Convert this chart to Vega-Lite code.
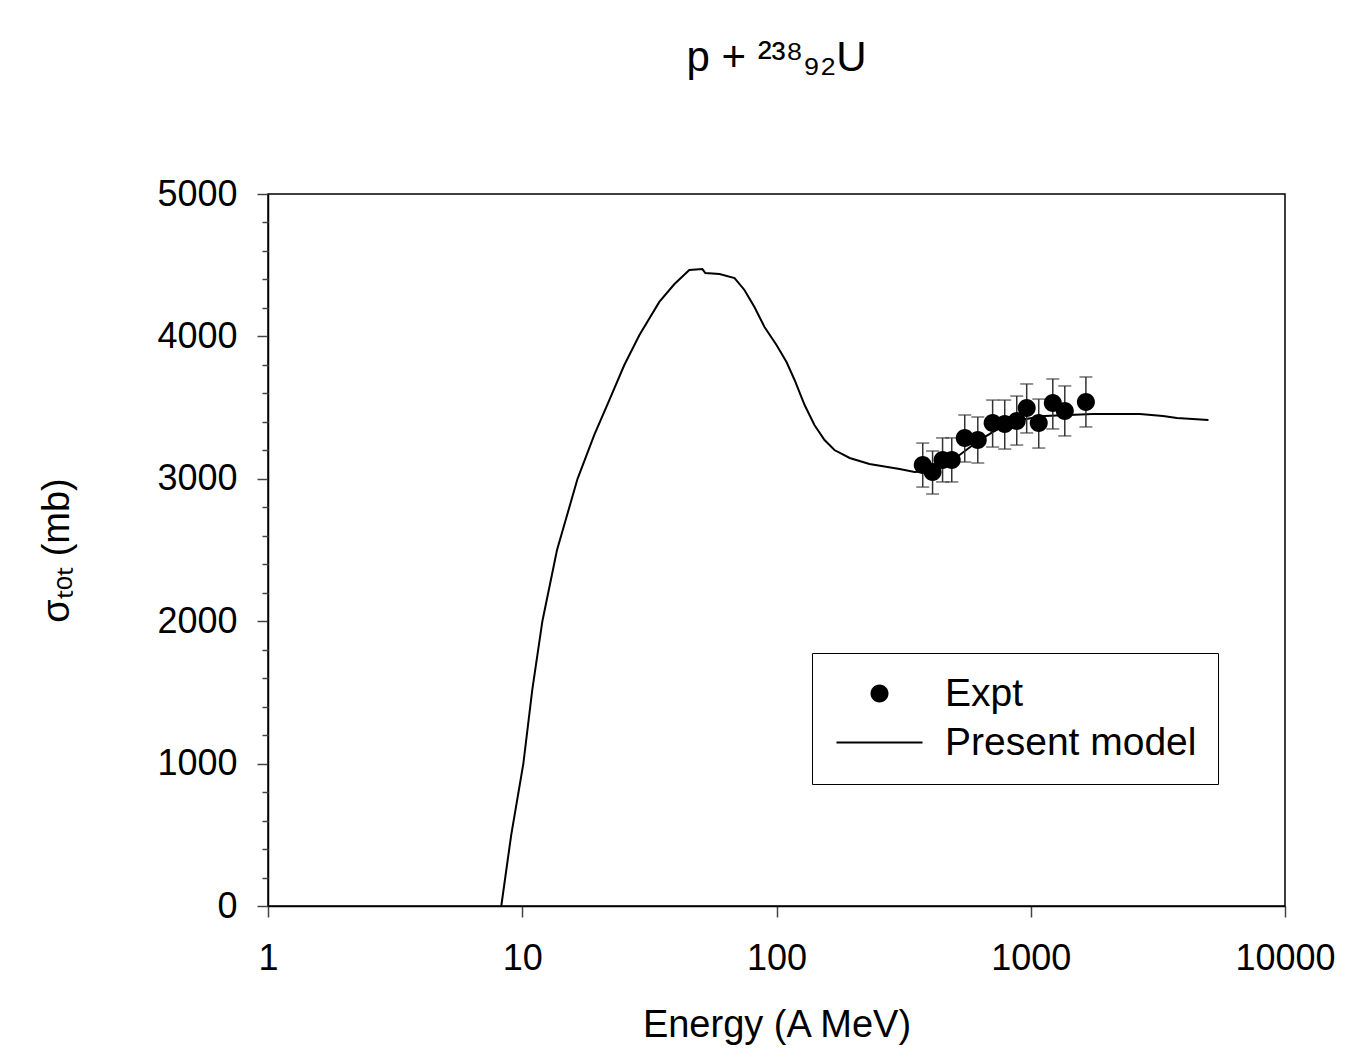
{
  "$schema": "https://vega.github.io/schema/vega-lite/v6.json",
  "width": 1017,
  "height": 712,
  "autosize": {"type": "none"},
  "padding": {"left": 268, "top": 194, "right": 62, "bottom": 151},
  "background": "white",
  "title": {"text": "p + ²³⁸₉₂U", "font": "Liberation Sans", "fontSize": 42, "fontWeight": "normal", "color": "black", "anchor": "middle", "baseline": "alphabetic", "offset": 63},
  "config": {
    "view": {"stroke": "black", "strokeWidth": 1.5},
    "axis": {"labelFont": "Liberation Sans", "labelFontSize": 36, "labelColor": "black", "titleFont": "Liberation Sans", "titleFontWeight": "normal", "titleColor": "black", "domainColor": "black", "domainWidth": 1.5, "tickColor": "#444", "tickWidth": 1.5, "grid": false}
  },
  "resolve": {"axis": {"y": "independent"}},
  "datasets": {
    "model": [
      {"E": 8.27, "sigma": 0},
      {"E": 9.05, "sigma": 500},
      {"E": 10.1, "sigma": 1000},
      {"E": 10.95, "sigma": 1517},
      {"E": 12.0, "sigma": 2000},
      {"E": 13.7, "sigma": 2500},
      {"E": 16.5, "sigma": 3000},
      {"E": 19.2, "sigma": 3308},
      {"E": 22.0, "sigma": 3553},
      {"E": 25.2, "sigma": 3799},
      {"E": 28.9, "sigma": 4010},
      {"E": 34.6, "sigma": 4242},
      {"E": 39.7, "sigma": 4368},
      {"E": 45.4, "sigma": 4466},
      {"E": 51.1, "sigma": 4473},
      {"E": 52.5, "sigma": 4445},
      {"E": 59.7, "sigma": 4438},
      {"E": 68.4, "sigma": 4410},
      {"E": 74.8, "sigma": 4326},
      {"E": 81.9, "sigma": 4206},
      {"E": 89.7, "sigma": 4066},
      {"E": 100, "sigma": 3940},
      {"E": 109.5, "sigma": 3820},
      {"E": 117.8, "sigma": 3694},
      {"E": 129, "sigma": 3518},
      {"E": 141, "sigma": 3378},
      {"E": 154.5, "sigma": 3272},
      {"E": 169, "sigma": 3202},
      {"E": 194, "sigma": 3146},
      {"E": 232, "sigma": 3104},
      {"E": 305, "sigma": 3069},
      {"E": 349, "sigma": 3048},
      {"E": 400, "sigma": 3055},
      {"E": 525, "sigma": 3167},
      {"E": 629, "sigma": 3272},
      {"E": 755, "sigma": 3357},
      {"E": 905, "sigma": 3413},
      {"E": 1135, "sigma": 3441},
      {"E": 1755, "sigma": 3455},
      {"E": 2686, "sigma": 3455},
      {"E": 3311, "sigma": 3441},
      {"E": 3758, "sigma": 3427},
      {"E": 5000, "sigma": 3413}
    ],
    "expt": [
      {"E": 376, "sigma": 3097, "lo": 2942, "hi": 3251, "series": "Expt"},
      {"E": 411, "sigma": 3048, "lo": 2893, "hi": 3195, "series": "Expt"},
      {"E": 450, "sigma": 3132, "lo": 2978, "hi": 3287, "series": "Expt"},
      {"E": 489, "sigma": 3132, "lo": 2978, "hi": 3287, "series": "Expt"},
      {"E": 550, "sigma": 3287, "lo": 3118, "hi": 3448, "series": "Expt"},
      {"E": 619, "sigma": 3272, "lo": 3111, "hi": 3434, "series": "Expt"},
      {"E": 708, "sigma": 3392, "lo": 3223, "hi": 3553, "series": "Expt"},
      {"E": 790, "sigma": 3385, "lo": 3209, "hi": 3553, "series": "Expt"},
      {"E": 881, "sigma": 3406, "lo": 3237, "hi": 3581, "series": "Expt"},
      {"E": 964, "sigma": 3497, "lo": 3322, "hi": 3666, "series": "Expt"},
      {"E": 1075, "sigma": 3392, "lo": 3216, "hi": 3560, "series": "Expt"},
      {"E": 1221, "sigma": 3532, "lo": 3350, "hi": 3701, "series": "Expt"},
      {"E": 1361, "sigma": 3476, "lo": 3301, "hi": 3652, "series": "Expt"},
      {"E": 1648, "sigma": 3539, "lo": 3364, "hi": 3715, "series": "Expt"}
    ]
  },
  "layer": [
    {
      "data": {"name": "model"},
      "mark": {"type": "line", "color": "black", "strokeWidth": 2, "interpolate": "linear"},
      "encoding": {
        "x": {"field": "E", "type": "quantitative", "scale": {"type": "log", "domain": [1, 10000]},
              "axis": {"values": [1, 10, 100, 1000, 10000], "format": "d", "title": "Energy (A MeV)", "titleFontSize": 38, "titlePadding": 30, "tickSize": 11, "labelPadding": 24, "labelFlush": false, "labelOverlap": false}},
        "y": {"field": "sigma", "type": "quantitative", "scale": {"domain": [0, 5000]},
              "axis": {"values": [0, 1000, 2000, 3000, 4000, 5000], "format": "d", "title": "σₜₒₜ (mb)", "titleFontSize": 38, "titlePadding": 80, "tickSize": 11, "labelPadding": 20, "labelFlush": false, "orient": "left"}}
      }
    },
    {
      "data": {"name": "expt"},
      "mark": {"type": "errorbar", "color": "#333", "thickness": 1.5, "ticks": {"size": 13, "thickness": 1.5, "color": "#333"}},
      "encoding": {
        "x": {"field": "E", "type": "quantitative"},
        "y": {"field": "lo", "type": "quantitative", "axis": null},
        "y2": {"field": "hi"}
      }
    },
    {
      "data": {"name": "expt"},
      "mark": {"type": "point", "filled": true, "size": 400, "color": "black", "opacity": 1},
      "encoding": {
        "x": {"field": "E", "type": "quantitative"},
        "y": {"field": "sigma", "type": "quantitative",
              "axis": {"values": [200, 400, 600, 800, 1200, 1400, 1600, 1800, 2200, 2400, 2600, 2800, 3200, 3400, 3600, 3800, 4200, 4400, 4600, 4800], "labels": false, "domain": false, "tickSize": 6, "title": null, "orient": "left"}},
        "shape": {"field": "series", "type": "nominal",
                  "scale": {"domain": ["Expt", "Present model"], "range": ["M0.9,0A0.9,0.9 0 1,1 -0.9,0A0.9,0.9 0 1,1 0.9,0Z", "M-4.3,-0.1L4.3,-0.1L4.3,0.1L-4.3,0.1Z"]},
                  "legend": {"title": null, "orient": "none", "legendX": 544, "legendY": 459, "fillColor": "white", "strokeColor": "black", "padding": 21, "symbolSize": 400, "symbolOffset": 27, "labelOffset": 46, "rowPadding": 9, "labelFont": "Liberation Sans", "labelFontSize": 39, "labelColor": "black", "labelLimit": 400,
                             "symbolFillColor": "black", "symbolStrokeColor": "black", "symbolStrokeWidth": 0,
                             "encode": {"symbols": {"fill": {"value": "black"}, "opacity": {"value": 1}}}}}
      }
    }
  ]
}
